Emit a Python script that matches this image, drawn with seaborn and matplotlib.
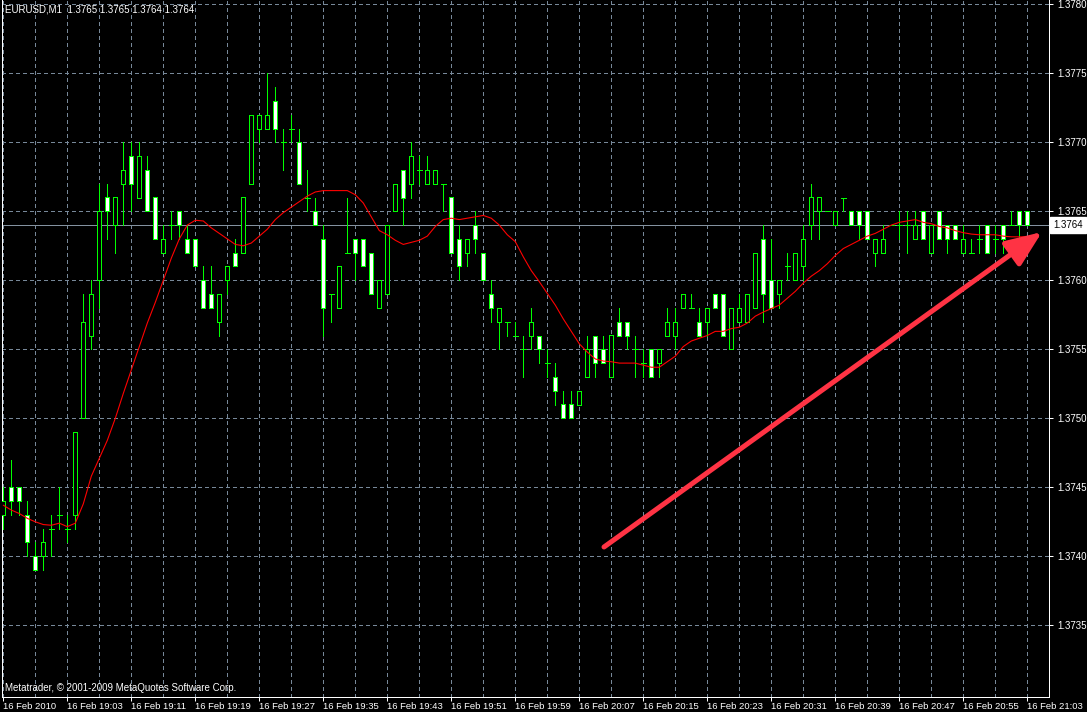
import numpy as np
import pandas as pd
import matplotlib
matplotlib.use("Agg")
import matplotlib.pyplot as plt
import seaborn as sns

# ---------------- data (prices in pips above BASE) ----------------
BASE = 1.3730
PIP = 0.0001

open_pips = [13, 15, 15, 13, 10, 10, 12, 13, 12, 13, 20, 26, 30, 36, 34, 37, 39, 36, 38, 36,
             32, 34, 35, 33, 33, 30, 29, 27, 30, 32, 32, 37, 41, 41, 43, 40, 41, 40, 36, 35,
             33, 29, 28, 32, 33, 33, 32, 28, 29, 35, 38, 37, 38, 37, 37, 37, 36, 33, 32, 34,
             32, 29, 27, 27, 26, 25, 26, 26, 24, 23, 21, 21, 21, 23, 26, 25, 23, 27, 27, 25,
             24, 25, 24, 26, 26, 28, 28, 27, 27, 29, 29, 25, 27, 27, 28, 33, 30, 29, 31, 30,
             31, 34, 35, 35, 34, 36, 35, 35, 35, 32, 32, 34, 34, 34, 33, 35, 32, 35, 34, 34,
             32, 32, 33, 34, 33, 34, 34, 35, 35]
high_pips = [15, 17, 15, 14, 11, 12, 13, 15, 13, 19, 29, 30, 37, 37, 36, 40, 40, 40, 39, 36,
             34, 35, 35, 34, 33, 31, 31, 29, 31, 33, 36, 42, 42, 45, 44, 41, 42, 41, 38, 36,
             34, 29, 31, 36, 33, 33, 32, 30, 34, 37, 38, 40, 39, 39, 38, 37, 36, 34, 33, 35,
             32, 30, 28, 27, 27, 26, 28, 26, 25, 24, 22, 22, 22, 26, 26, 26, 26, 28, 27, 26,
             25, 25, 25, 28, 28, 29, 29, 28, 28, 29, 29, 28, 29, 29, 32, 34, 33, 30, 32, 32,
             34, 37, 36, 35, 35, 36, 35, 35, 35, 33, 34, 34, 35, 35, 35, 35, 34, 35, 34, 34,
             34, 33, 34, 34, 34, 34, 35, 35, 35]
low_pips = [12, 13, 13, 10, 9, 9, 10, 12, 11, 12, 20, 25, 28, 33, 32, 34, 35, 36, 35, 33,
            32, 33, 33, 32, 31, 28, 28, 26, 29, 31, 32, 37, 40, 41, 40, 38, 40, 37, 35, 34,
            26, 27, 28, 32, 30, 31, 29, 28, 29, 35, 34, 36, 37, 37, 37, 35, 32, 30, 31, 32,
            30, 27, 25, 26, 26, 23, 25, 24, 23, 21, 20, 20, 21, 23, 23, 24, 23, 26, 25, 23,
            23, 23, 23, 26, 25, 28, 28, 26, 26, 28, 26, 25, 27, 27, 28, 27, 28, 28, 30, 30,
            30, 33, 33, 35, 34, 35, 34, 33, 33, 31, 32, 34, 33, 32, 33, 33, 32, 33, 32, 33,
            32, 32, 32, 32, 32, 32, 34, 33, 34]
close_pips = [14, 14, 14, 11, 9, 11, 12, 13, 12, 19, 27, 29, 35, 35, 36, 38, 37, 39, 35, 33,
              33, 34, 34, 32, 31, 28, 28, 29, 31, 31, 36, 42, 42, 42, 41, 40, 41, 37, 36, 34,
              28, 29, 31, 32, 32, 31, 29, 30, 34, 37, 36, 39, 38, 38, 38, 37, 32, 31, 33, 33,
              30, 28, 28, 27, 26, 25, 27, 25, 24, 22, 20, 20, 22, 25, 24, 24, 26, 26, 26, 25,
              24, 23, 25, 27, 27, 29, 28, 26, 28, 28, 26, 28, 28, 29, 32, 29, 28, 30, 31, 32,
              33, 36, 36, 35, 35, 36, 34, 34, 33, 33, 33, 34, 34, 34, 34, 33, 34, 33, 33, 33,
              33, 32, 33, 32, 33, 33, 34, 34, 34]
ma_pips = [13.7, 13.35, 13.1, 12.75, 12.5, 12.3, 12.25, 12.4, 12.15, 12.4,
           13.8, 15.8, 17.1, 18.4, 20.0, 21.8, 23.5, 25.2, 26.9, 28.4,
           30.0, 31.6, 33.0, 34.0, 34.35, 34.3, 33.8, 33.4, 33.0, 32.6,
           32.5, 32.7, 33.2, 33.7, 34.4, 34.9, 35.3, 35.7, 36.1, 36.4,
           36.5, 36.5, 36.5, 36.5, 36.2, 35.6, 34.6, 33.6, 33.3, 32.9,
           32.6, 32.75, 32.9, 33.2, 33.9, 34.4, 34.5, 34.4, 34.5, 34.6,
           34.7, 34.5, 34.0, 33.3, 32.8, 31.7, 30.7, 29.9, 29.05, 28.2,
           27.2, 26.3, 25.4, 24.8, 24.3, 24.15, 24.1, 24.0, 24.0, 24.0,
           23.85, 23.7, 23.7, 24.1, 24.5, 25.2, 25.6, 25.8, 26.0, 26.3,
           26.3, 26.5, 26.6, 26.9, 27.4, 27.7, 27.95, 28.2, 28.7, 29.2,
           29.8, 30.3, 30.7, 31.2, 31.8, 32.3, 32.6, 32.9, 33.2, 33.4,
           33.7, 34.0, 34.2, 34.3, 34.4, 34.2, 34.1, 33.9, 33.8, 33.6,
           33.45, 33.35, 33.3, 33.3, 33.3, 33.2, 33.15, 33.15, 33.15]

time_labels = ["16 Feb 2010", "16 Feb 19:03", "16 Feb 19:11", "16 Feb 19:19", "16 Feb 19:27",
               "16 Feb 19:35", "16 Feb 19:43", "16 Feb 19:51", "16 Feb 19:59", "16 Feb 20:07",
               "16 Feb 20:15", "16 Feb 20:23", "16 Feb 20:31", "16 Feb 20:39", "16 Feb 20:47",
               "16 Feb 20:55", "16 Feb 21:03"]
label_bars = list(range(0, 129, 8))
price_ticks = [1.3735, 1.3740, 1.3745, 1.3750, 1.3755, 1.3760, 1.3765, 1.3770, 1.3775, 1.3780]
last_price = 1.3764
title_text = "EURUSD,M1  1.3765 1.3765 1.3764 1.3764"
copyright_text = "Metatrader, \u00a9 2001-2009 MetaQuotes Software Corp."

# ---------------- derived frame ----------------
df = pd.DataFrame({
    "bar": np.arange(len(open_pips)),
    "open": BASE + PIP * np.array(open_pips),
    "high": BASE + PIP * np.array(high_pips),
    "low": BASE + PIP * np.array(low_pips),
    "close": BASE + PIP * np.array(close_pips),
    "ma": BASE + PIP * np.array(ma_pips),
})

# ---------------- style ----------------
sns.set_theme(style="dark")
plt.rcParams['font.family'] = ['Liberation Sans', 'DejaVu Sans']

W, H = 1087, 712
fig = plt.figure(figsize=(W / 100, H / 100), dpi=100)
fig.patch.set_facecolor('black')
ax_left, ax_right, ax_top, ax_bottom = 2, 1049, 0, 697
ax = fig.add_axes([ax_left / W, (H - ax_bottom) / H, (ax_right - ax_left) / W, (ax_bottom - ax_top) / H])
ax.set_facecolor('black')

px = 0.72  # one pixel in points
lime = '#00ff00'
gridc = '#778899'

# limits: bar k at pixel 3.3 + 8k ; price L pips -> y = 694.3 - 13.8 L
ax.set_xlim((ax_left - 3.3) / 8, (ax_right - 3.3) / 8)
ax.set_ylim(BASE + PIP * (694.3 - ax_bottom) / 13.8, BASE + PIP * (694.3 - ax_top) / 13.8)

# grid
for b in range(0, 129, 4):
    ax.axvline(b, color=gridc, lw=px, ls=(0, (4, 4)), zorder=0.5, antialiased=False)
for p in price_ticks:
    ax.axhline(p, color=gridc, lw=px, ls=(0, (4, 4)), zorder=0.5, antialiased=False)

# current price line
ax.axhline(last_price, color='#8492a0', lw=px, zorder=0.8, antialiased=False)

# candles
ax.vlines(df["bar"], df["low"], df["high"], color=lime, lw=px, zorder=2, antialiased=False)
bull = df[df["close"] > df["open"]]
bear = df[df["close"] < df["open"]]
doji = df[df["close"] == df["open"]]
ax.bar(bull["bar"], bull["close"] - bull["open"], bottom=bull["open"], width=0.5,
       facecolor='black', edgecolor=lime, linewidth=px, zorder=3, antialiased=False)
ax.bar(bear["bar"], bear["open"] - bear["close"], bottom=bear["close"], width=0.5,
       facecolor='white', edgecolor=lime, linewidth=px, zorder=3, antialiased=False)
ax.hlines(doji["open"], doji["bar"] - 0.3, doji["bar"] + 0.3, color=lime, lw=px, zorder=3,
          antialiased=False)

# moving average
sns.lineplot(data=df, x="bar", y="ma", color='#ff0000', lw=0.8, ax=ax, zorder=4)
ax.set_xlabel("")
ax.set_ylabel("")

# axes decoration
for s in ['left', 'bottom', 'right']:
    ax.spines[s].set_color('white')
    ax.spines[s].set_linewidth(px)
    ax.spines[s].set_visible(True)
ax.spines['top'].set_visible(False)

ax.yaxis.tick_right()
ax.set_yticks(price_ticks)
ax.set_yticklabels([f"{p:.4f}" for p in price_ticks])
ax.tick_params(axis='y', colors='white', length=3, width=px, pad=3, labelsize=7, right=True, left=False)
ax.set_xticks(label_bars)
ax.set_xticklabels(time_labels, ha='left')
ax.tick_params(axis='x', colors='white', length=3, width=px, pad=0.5, labelsize=6.8, bottom=True)
ax.grid(False)

# current price box
ax.annotate(f"{last_price:.4f}", xy=(1, last_price), xycoords=('axes fraction', 'data'),
            xytext=(3, 0), textcoords='offset points', va='center', ha='left', color='black',
            fontsize=7, bbox=dict(boxstyle='square,pad=0.3', fc='white', ec='white'),
            annotation_clip=False)

# texts
fig.text(5 / W, 1 - 10 / H, title_text, va='center', ha='left', color='white', fontsize=7)
fig.text(5 / W, 1 - 688 / H, copyright_text, va='center', ha='left', color='white', fontsize=7)

# red annotation arrow
ax.annotate('', xy=(1042, H - 232), xytext=(604, H - 547), xycoords='figure pixels',
            textcoords='figure pixels',
            arrowprops=dict(arrowstyle='-|>,head_length=22,head_width=9', mutation_scale=1,
                            color='#ff3344', lw=3.6, shrinkA=0, shrinkB=0),
            annotation_clip=False, zorder=10)

fig.savefig("out.png", dpi=100, facecolor='black')
